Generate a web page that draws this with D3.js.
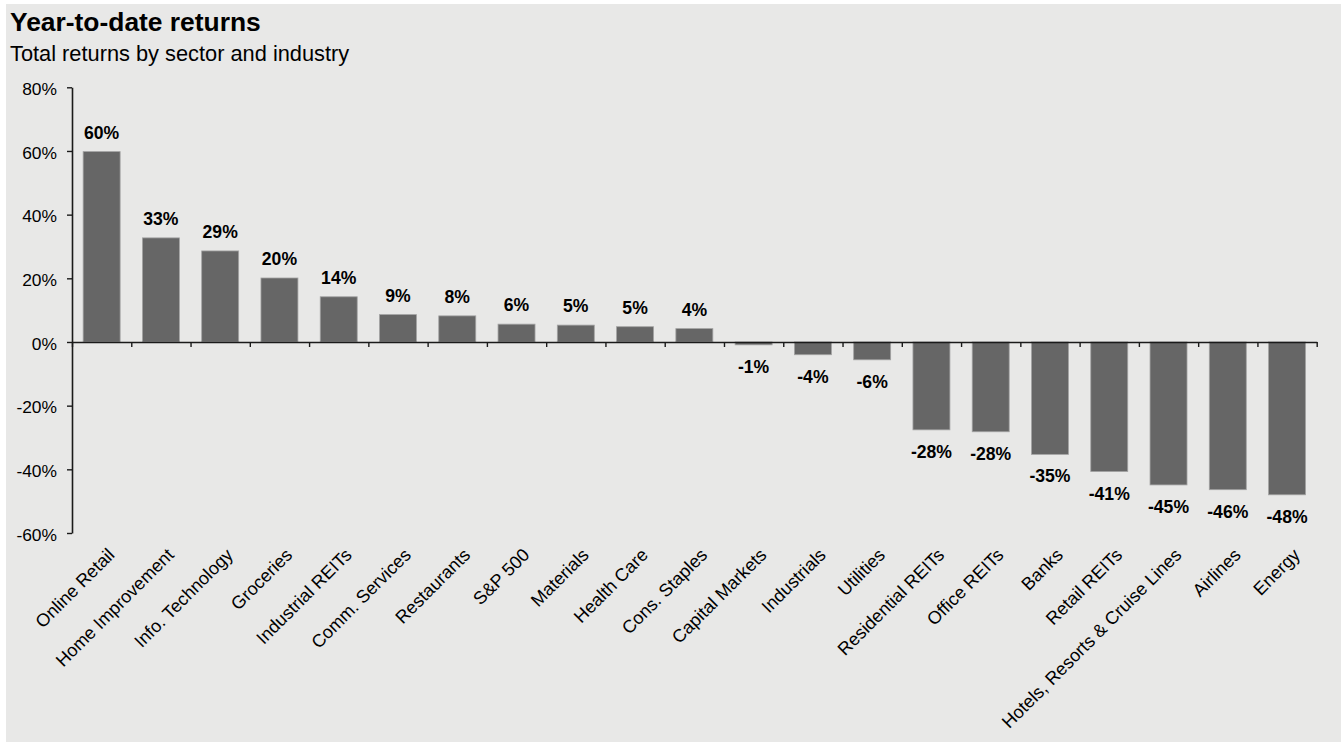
<!DOCTYPE html>
<html>
<head>
<meta charset="utf-8">
<script src="https://cdn.jsdelivr.net/npm/d3@7"></script>
<style>
  html, body { margin: 0; padding: 0; background: #fff; }
  svg { display: block; font-family: "Liberation Sans", Arial, sans-serif; }
</style>
</head>
<body>
<div id="chart"></div>
<script>
// Year-to-date total returns by sector and industry (%)
const categories = [
  "Online Retail", "Home Improvement", "Info. Technology", "Groceries", "Industrial REITs",
  "Comm. Services", "Restaurants", "S&P 500", "Materials", "Health Care", "Cons. Staples",
  "Capital Markets", "Industrials", "Utilities", "Residential REITs", "Office REITs",
  "Banks", "Retail REITs", "Hotels, Resorts & Cruise Lines", "Airlines", "Energy"
];
const returns = [
  59.8, 32.7, 28.6, 20.1, 14.2,
  8.6, 8.2, 5.6, 5.3, 4.8, 4.2,
  -0.9, -4.0, -5.6, -27.6, -28.2,
  -35.3, -40.7, -44.9, -46.4, -48.0
];
const yTicks = [-60, -40, -20, 0, 20, 40, 60, 80];

const width = 1341, height = 742;
const m = { top: 87.3, bottom: 533, left: 72, right: 1316.7 };

const svg = d3.select("#chart").append("svg")
  .attr("width", width)
  .attr("height", height);

// grey panel
svg.append("rect")
  .attr("x", 6).attr("y", 4)
  .attr("width", width - 6).attr("height", height - 4)
  .attr("fill", "#e8e8e7");

// titles
svg.append("text")
  .attr("x", 10).attr("y", 30.5)
  .attr("font-size", 26.4).attr("font-weight", "bold")
  .attr("fill", "#000")
  .text("Year-to-date returns");

svg.append("text")
  .attr("x", 10).attr("y", 60.5)
  .attr("font-size", 21.8)
  .attr("fill", "#000")
  .text("Total returns by sector and industry");

// scales
const y = d3.scaleLinear()
  .domain([d3.min(yTicks), d3.max(yTicks)])
  .range([m.bottom, m.top]);

const x = d3.scaleBand()
  .domain(categories)
  .range([m.left, m.right])
  .paddingInner(0.376)
  .paddingOuter(0.188);

// slot edges for the category tick marks
const xEdge = d3.scaleLinear()
  .domain([0, categories.length])
  .range([m.left, m.right]);

// ----- bars -----
const data = categories.map((c, i) => ({ name: c, value: returns[i] }));

svg.append("g")
  .selectAll("rect")
  .data(data)
  .join("rect")
  .attr("x", d => x(d.name))
  .attr("width", x.bandwidth())
  .attr("y", d => y(Math.max(0, d.value)))
  .attr("height", d => Math.abs(y(d.value) - y(0)))
  .attr("fill", "#666666")
  .attr("stroke", "#a3a3a3")
  .attr("stroke-width", 0.8);

// ----- value labels -----
svg.append("g")
  .selectAll("text")
  .data(data)
  .join("text")
  .attr("x", d => x(d.name) + x.bandwidth() / 2)
  .attr("y", d => d.value >= 0 ? y(d.value) - 13 : y(d.value) + 28)
  .attr("text-anchor", "middle")
  .attr("font-size", 17.6)
  .attr("font-weight", "bold")
  .attr("fill", "#000")
  .text(d => Math.round(d.value) + "%");

// ----- y axis -----
const yAxis = svg.append("g")
  .attr("transform", `translate(${m.left},0)`)
  .call(
    d3.axisLeft(y)
      .tickValues(yTicks)
      .tickFormat(d => d + "%")
      .tickSize(5)
      .tickSizeOuter(0)
      .tickPadding(10)
  );

yAxis.select(".domain").attr("stroke", "#1a1a1a").attr("stroke-width", 1.6);
yAxis.selectAll(".tick line").attr("stroke", "#1a1a1a").attr("stroke-width", 1.4);
yAxis.selectAll(".tick text")
  .attr("font-size", 17.4)
  .attr("font-family", "Liberation Sans, Arial, sans-serif")
  .attr("fill", "#000")
  .attr("dy", "0.42em");

// ----- x axis (at zero line) -----
const xAxis = svg.append("g")
  .attr("transform", `translate(0,${y(0)})`)
  .call(
    d3.axisBottom(xEdge)
      .tickValues(d3.range(categories.length + 1))
      .tickFormat("")
      .tickSize(5)
      .tickSizeOuter(0)
  );

xAxis.select(".domain").attr("stroke", "#1a1a1a").attr("stroke-width", 1.6);
xAxis.selectAll(".tick line").attr("stroke", "#1a1a1a").attr("stroke-width", 1.4);

// ----- category labels (below plot, rotated) -----
svg.append("g")
  .selectAll("text")
  .data(categories)
  .join("text")
  .attr("transform", d => `translate(${x(d) + x.bandwidth() / 2 + 5},547) rotate(-45)`)
  .attr("dy", "0.71em")
  .attr("text-anchor", "end")
  .attr("font-size", 18)
  .attr("fill", "#000")
  .text(d => d);
</script>
</body>
</html>
